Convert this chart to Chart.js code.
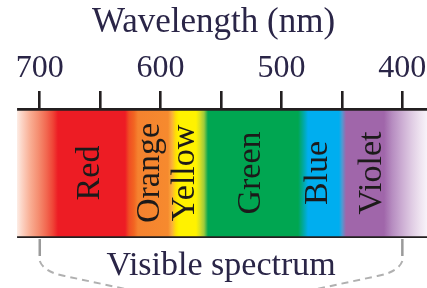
<!DOCTYPE html>
<html>
<head>
<meta charset="utf-8">
<script src="https://cdn.jsdelivr.net/npm/chart.js@4/dist/chart.umd.min.js"></script>
<style>
  html, body { margin: 0; padding: 0; background: #fff; }
  #wrap { width: 427px; height: 288px; }
</style>
</head>
<body>
<div id="wrap"><canvas id="espectro"></canvas></div>
<script>
// Extremos del degradado y del eje (nm)
const spectrumRange = [379.6, 718.8];
const axisMin = 379.6;
const axisMax = 732.9;

// Marcas del eje y las que llevan número
const tickNm = [400, 450, 500, 550, 600, 650, 700];
const tickLabels = [400, 500, 600, 700];

// Nombres de las bandas y dónde va cada rótulo
const bandNames = ['Red', 'Orange', 'Yellow', 'Green', 'Blue', 'Violet'];
const bandLabelNm = [660, 611, 581.5, 527, 472, 427];

// Paradas de color del espectro
const gradientNm = [718.8, 714.7, 708.0, 701.4, 694.8, 689.0, 684.9, 629.4, 626.1, 622.0,
  618.7, 593.9, 590.6, 587.3, 584.8, 570.7, 567.4, 564.1, 560.8, 486.3, 482.2, 478.0,
  452.4, 449.9, 446.6, 415.2, 408.5, 400.3, 392.0, 385.4, 379.6];
const gradientColors = ['#fdece4', '#fcd3c4', '#f9ae94', '#f58f72', '#f26a52', '#ef4336',
  '#ed1c24', '#ed1c24', '#f04e23', '#f26522', '#f5822f', '#f68a2e', '#fbb03b', '#ffe200',
  '#fff200', '#fff200', '#d7df23', '#9dca3c', '#00a651', '#00a651', '#00a99d', '#00aeef',
  '#00aeef', '#4f9ad3', '#a066aa', '#a066aa', '#b68cc0', '#ccadd3', '#e0cde4', '#eee3f0',
  '#f8f3f9'];

const textColor = '#2a2547';
const serif = "'Liberation Serif', 'DejaVu Serif', serif";

// Degradado construido con la escala x
function spectrumFill(ctx) {
  const chart = ctx.chart;
  if (!chart.chartArea) return '#ed1c24';
  const xs = chart.scales.x;
  const x0 = xs.getPixelForValue(spectrumRange[1]);
  const x1 = xs.getPixelForValue(spectrumRange[0]);
  const g = chart.ctx.createLinearGradient(x0, 0, x1, 0);
  gradientNm.forEach((nm, i) => {
    const t = (xs.getPixelForValue(nm) - x0) / (x1 - x0);
    g.addColorStop(Math.min(1, Math.max(0, t)), gradientColors[i]);
  });
  return g;
}

// Rótulos verticales de las bandas
const bandLabels = {
  id: 'bandLabels',
  afterDatasetsDraw(chart) {
    const { ctx } = chart;
    const xs = chart.scales.x;
    const bar = chart.getDatasetMeta(0).data[0];
    const size = 34;
    const capH = size * 0.66;
    ctx.save();
    ctx.font = size + 'px ' + serif;
    ctx.fillStyle = '#1c1a1a';
    ctx.textAlign = 'center';
    ctx.textBaseline = 'alphabetic';
    bandNames.forEach((name, i) => {
      const x = xs.getPixelForValue(bandLabelNm[i]);
      ctx.save();
      ctx.translate(x + capH / 2, bar.y);
      ctx.rotate(-Math.PI / 2);
      ctx.fillText(name, 0, 0);
      ctx.restore();
    });
    ctx.restore();
  }
};

// Llave punteada y texto "Visible spectrum"
const visibleBracket = {
  id: 'visibleBracket',
  afterDraw(chart) {
    const { ctx } = chart;
    const xs = chart.scales.x;
    const bar = chart.getDatasetMeta(0).data[0];
    const yb = bar.y + bar.height / 2;
    const xl = xs.getPixelForValue(700);
    const xr = xs.getPixelForValue(400);
    ctx.save();
    ctx.strokeStyle = '#9a9a9a';
    ctx.lineWidth = 2.5;
    ctx.beginPath();
    ctx.moveTo(xl, yb + 1);
    ctx.lineTo(xl, yb + 18);
    ctx.moveTo(xr, yb + 1);
    ctx.lineTo(xr, yb + 18);
    ctx.stroke();
    ctx.strokeStyle = '#b0b0b0';
    ctx.lineWidth = 2;
    ctx.setLineDash([7, 5]);
    ctx.beginPath();
    ctx.moveTo(xl, yb + 23);
    ctx.quadraticCurveTo(xl + 4, yb + 34, xl + 25, yb + 38);
    ctx.lineTo(xl + 100, yb + 54);
    ctx.moveTo(xr, yb + 23);
    ctx.quadraticCurveTo(xr - 4, yb + 34, xr - 25, yb + 38);
    ctx.lineTo(xr - 100, yb + 54);
    ctx.stroke();
    ctx.setLineDash([]);
    ctx.fillStyle = textColor;
    ctx.font = '34px ' + serif;
    ctx.textAlign = 'center';
    ctx.textBaseline = 'alphabetic';
    ctx.fillText('Visible spectrum', (xl + xr) / 2, yb + 37);
    ctx.restore();
  }
};

new Chart(document.getElementById('espectro'), {
  type: 'bar',
  data: {
    labels: ['visible'],
    datasets: [{
      data: [spectrumRange],
      backgroundColor: spectrumFill,
      borderColor: '#231f20',
      borderWidth: { top: 3, bottom: 2, left: 0, right: 0 },
      borderSkipped: false,
      barPercentage: 1,
      categoryPercentage: 1
    }]
  },
  options: {
    indexAxis: 'y',
    responsive: true,
    maintainAspectRatio: false,
    animation: false,
    layout: { padding: { left: 0, right: 0, top: 0, bottom: 50 } },
    plugins: {
      legend: { display: false },
      tooltip: { enabled: false }
    },
    scales: {
      x: {
        type: 'linear',
        position: 'top',
        reverse: true,
        min: axisMin,
        max: axisMax,
        afterBuildTicks: (scale) => {
          scale.ticks = tickNm.map(v => ({ value: v }));
        },
        ticks: {
          autoSkip: false,
          maxRotation: 0,
          padding: 6,
          color: textColor,
          font: { family: serif, size: 32, lineHeight: 1 },
          callback: (v) => tickLabels.includes(v) ? String(v) : ''
        },
        grid: {
          drawOnChartArea: false,
          drawTicks: true,
          tickLength: 17,
          color: '#231f20',
          lineWidth: 2.6
        },
        border: { display: false },
        title: {
          display: true,
          text: 'Wavelength (nm)',
          color: textColor,
          font: { family: serif, size: 35, lineHeight: 1 },
          padding: { top: 5.5, bottom: 6.5 }
        }
      },
      y: { display: false }
    }
  },
  plugins: [bandLabels, visibleBracket]
});
</script>
</body>
</html>
